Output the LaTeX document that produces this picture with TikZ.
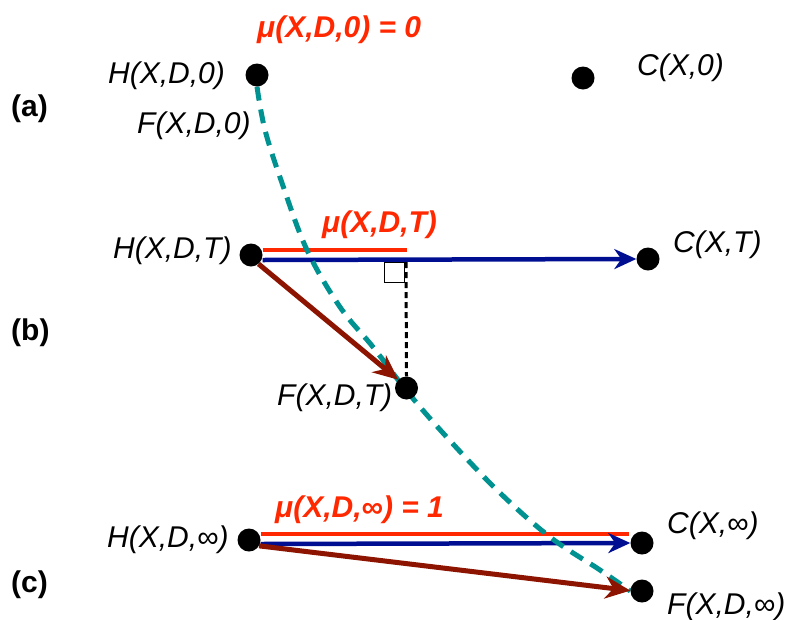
\documentclass[tikz,border=0pt]{standalone}
\usepackage{fontspec}
\setmainfont{Liberation Sans}
\usetikzlibrary{arrows.meta,calc}
\definecolor{myred}{RGB}{255,40,0}
\definecolor{myblue}{RGB}{0,15,145}
\definecolor{mydark}{RGB}{140,20,0}
\definecolor{myteal}{RGB}{0,145,145}
\pgfdeclarelayer{bg}
\pgfsetlayers{bg,main}
\begin{document}
\begin{tikzpicture}[x=1pt,y=-1pt,
  dot/.style={circle,fill=black,inner sep=0pt,minimum size=23pt},
  lbl/.style={anchor=base west,inner sep=0pt,font=\fontsize{30}{36}\selectfont\itshape},
  mulbl/.style={anchor=base west,inner sep=0pt,font=\fontsize{30}{36}\selectfont\bfseries\itshape,text=myred},
  partlbl/.style={anchor=base west,inner sep=0pt,font=\fontsize{30}{36}\selectfont\bfseries},
  redline/.style={draw=myred,line width=4pt},
  bluearrow/.style={draw=myblue,line width=4.5pt,-{Stealth[length=22pt,width=20pt,inset=7pt]}},
  darkarrow/.style={draw=mydark,line width=5pt,-{Stealth[length=25pt,width=22pt,inset=8pt]}},
  tealcurve/.style={draw=myteal,line width=5pt,dash pattern=on 14pt off 9pt},
  perpline/.style={draw=black,line width=3pt,dash pattern=on 6pt off 4pt},
  rightangle/.style={draw=black,line width=0.8pt,fill=white,inner sep=0pt,minimum size=20pt}
]
\useasboundingbox (0,0) rectangle (787,619);

% dots
\node[dot] (H0) at (257,75) {};
\node[dot] (C0) at (583,78) {};
\node[dot] (HT) at (251,255) {};
\node[dot] (CT) at (648,259) {};
\node[dot] (FT) at (406.5,388) {};
\node[dot] (HI) at (249,540) {};
\node[dot] (CI) at (642,543) {};
\node[dot] (FI) at (642,591) {};

% labels
\node[partlbl] (pa) at (11,116) {(a)};
\node[partlbl] (pb) at (11,340) {(b)};
\node[partlbl] (pc) at (11,592) {(c)};

\node[mulbl] (mu0) at (257,37) {μ(X,D,0) = 0};
\node[lbl] (lH0) at (108,83) {H(X,D,0)};
\node[lbl] (lF0) at (137,133) {F(X,D,0)};
\node[lbl] (lC0) at (637,75) {C(X,0)};

\node[mulbl] (muT) at (322,232) {μ(X,D,T)};
\node[lbl] (lHT) at (113,258) {H(X,D,T)};
\node[lbl] (lCT) at (673,252) {C(X,T)};
\node[lbl] (lFT) at (277,405) {F(X,D,T)};

\node[mulbl] (muI) at (275,517) {μ(X,D,∞) = 1};
\node[lbl] (lHI) at (107,547) {H(X,D,∞)};
\node[lbl] (lCI) at (667,533) {C(X,∞)};
\node[lbl] (lFI) at (667,614) {F(X,D,∞)};

\coordinate (rT) at (407,250);
\coordinate (pT) at (406,262);
\coordinate (rI) at (629,534);

\begin{pgfonlayer}{bg}
  % (b)
  \draw[redline] ([yshift=5pt]HT.east) -- (rT);
  \draw[bluearrow] ([yshift=-5pt]HT.east) -- (CT.west);
  % (c)
  \draw[redline] ([yshift=6pt]HI.east) -- (rI);
  \draw[bluearrow] ([yshift=-4pt]HI.east) -- (CI.west);
  % teal curve
  \draw[tealcurve] plot[smooth,tension=0.6] coordinates {(H0.south) (265,130) (282,183) (307,250) (340,307) (373,347) (406,390) (443,433) (497,490) (550,537) (600,570) (FI.west)};
  % dark red arrows
  \draw[darkarrow] (HT.-50) -- (FT.135);
  \draw[darkarrow] (HI.-30) -- (FI.178);
  % right angle and perpendicular
  \node[rightangle,anchor=north east] (sq) at (404.5,262) {};
  \draw[perpline] (pT) -- (FT.north);
\end{pgfonlayer}
\end{tikzpicture}
\end{document}
